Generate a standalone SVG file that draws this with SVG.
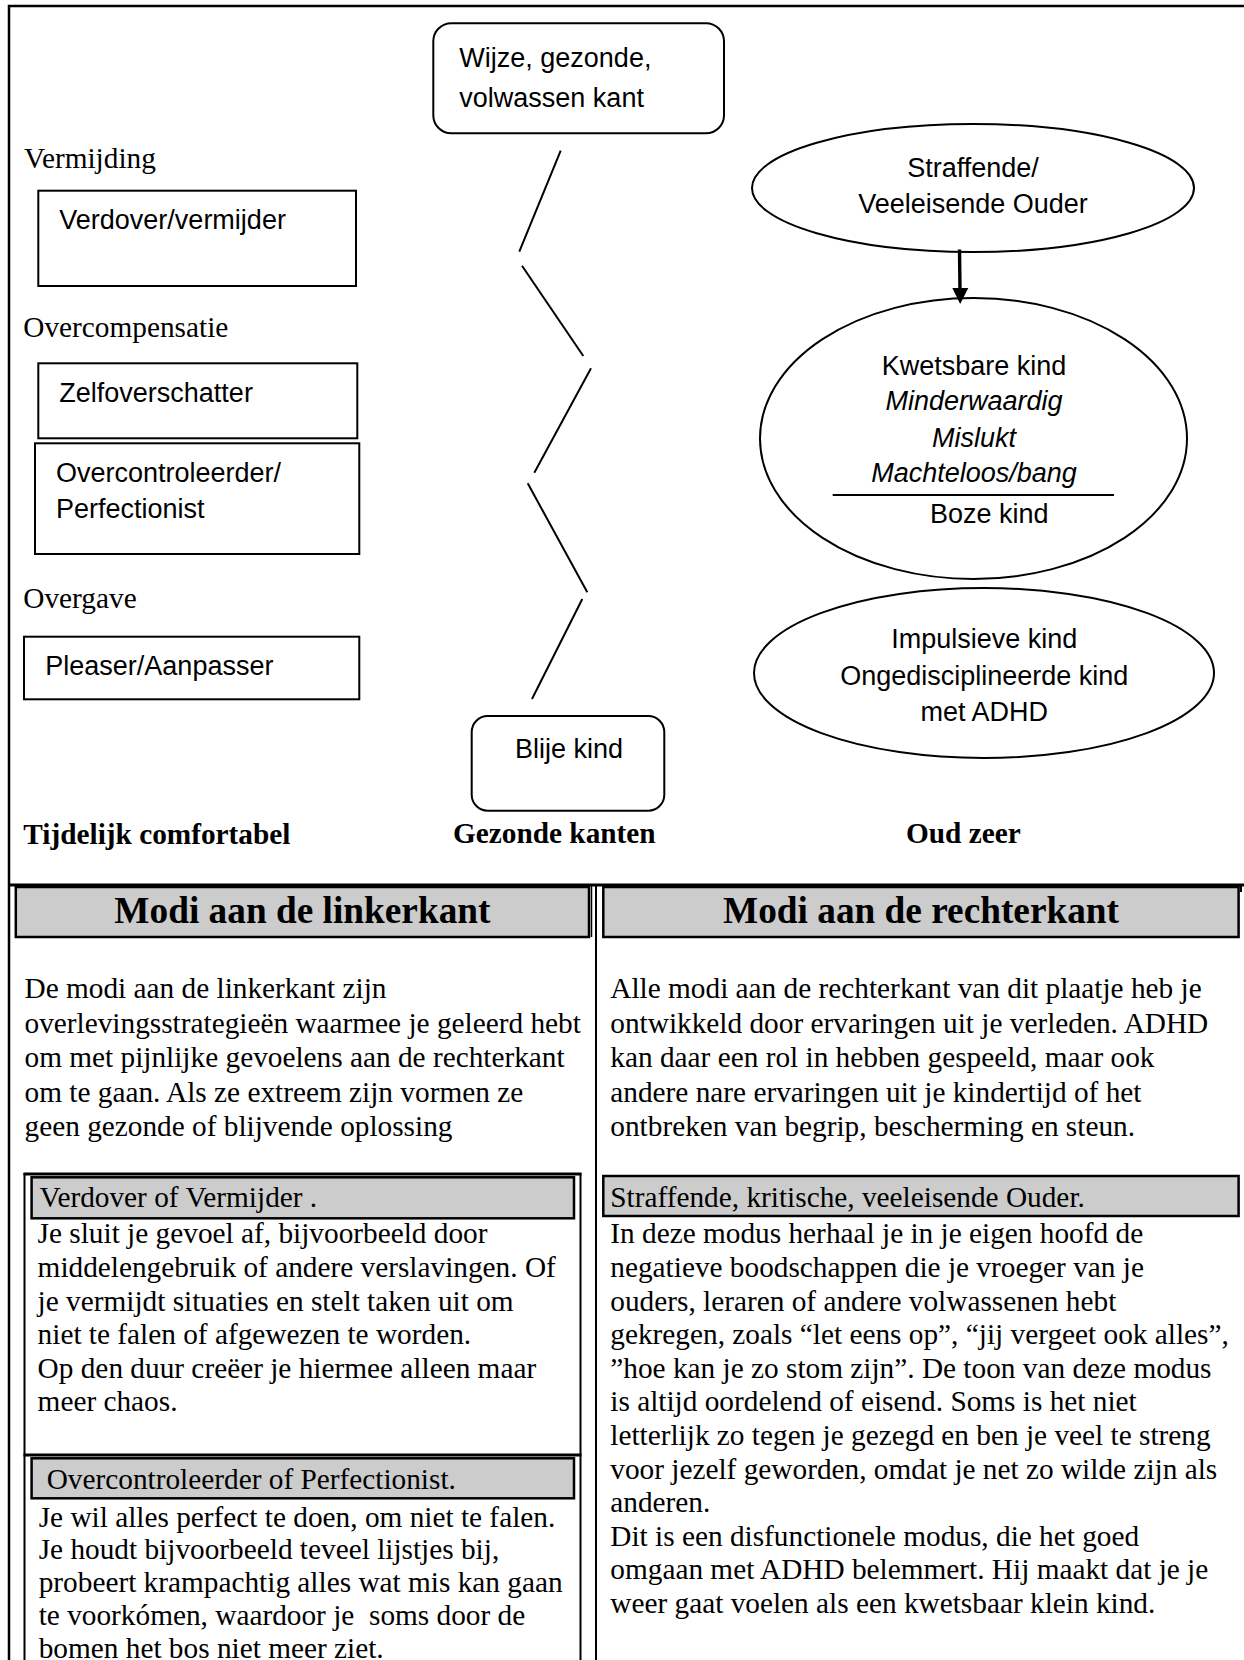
<svg xmlns="http://www.w3.org/2000/svg" width="1244" height="1660" viewBox="0 0 1244 1660">
<style>
.serif{font-family:"Liberation Serif","Times New Roman",serif;font-size:29.3px;fill:#000}
.b{font-weight:bold}
.h{font-family:"Liberation Serif","Times New Roman",serif;font-size:37.3px;font-weight:bold;text-anchor:middle;fill:#000}
.sans{font-family:"Liberation Sans",Arial,sans-serif;font-size:27px;fill:#000}
.mid{text-anchor:middle}
.it{font-style:italic}
.box{fill:#fff;stroke:#000;stroke-width:2}
.gray{fill:#cccccc;stroke:#000;stroke-width:2.5}
.ln{stroke:#000;stroke-width:2;fill:none}
.frame{stroke:#000;stroke-width:2.5;fill:none}
</style>
<defs>
<marker id="arr" viewBox="0 0 10 10" refX="9" refY="5" markerWidth="5" markerHeight="5" orient="auto" markerUnits="strokeWidth">
<path d="M0,0 L10,5 L0,10 Z" fill="#000"/>
</marker>
</defs>
<rect x="0" y="0" width="1244" height="1660" fill="#fff"/>

<g id="frame">
<path class="frame" d="M9,1660 V6 H1244"/>
<line x1="8" y1="885" x2="1244" y2="885" stroke="#000" stroke-width="3.2"/>
<line x1="1241" y1="885" x2="1241" y2="892" stroke="#000" stroke-width="2"/>
<line x1="596" y1="885" x2="596" y2="1660" stroke="#000" stroke-width="2"/>
<line x1="591.5" y1="885" x2="591.5" y2="937" stroke="#000" stroke-width="1.5"/>
</g>

<g id="labels-top">
<text class="serif" x="24" y="168.3">Vermijding</text>
<text class="serif" x="23.3" y="337.3">Overcompensatie</text>
<text class="serif" x="23.3" y="608.3">Overgave</text>
<text class="serif b" x="23.3" y="844">Tijdelijk comfortabel</text>
<text class="serif b" x="453" y="843">Gezonde kanten</text>
<text class="serif b" x="906" y="843">Oud zeer</text>
</g>

<g id="node-verdover">
<rect class="box" x="38.3" y="190.7" width="317.7" height="95.3"/>
<text class="sans" x="59.3" y="229.3">Verdover/vermijder</text>
</g>
<g id="node-zelfoverschatter">
<rect class="box" x="38.3" y="363.3" width="319" height="75"/>
<text class="sans" x="59.3" y="401.7">Zelfoverschatter</text>
</g>
<g id="node-overcontroleerder">
<rect class="box" x="35" y="443.3" width="324.3" height="110.7"/>
<text class="sans" x="56" y="481.7">Overcontroleerder/</text>
<text class="sans" x="56" y="518.3">Perfectionist</text>
</g>
<g id="node-pleaser">
<rect class="box" x="24" y="636.7" width="335.3" height="62.6"/>
<text class="sans" x="45.3" y="675">Pleaser/Aanpasser</text>
</g>

<g id="node-wijze">
<rect class="box" x="433.3" y="23.3" width="290.7" height="110" rx="18" ry="18"/>
<text class="sans" x="459.3" y="66.7">Wijze, gezonde,</text>
<text class="sans" x="459.3" y="107.3">volwassen kant</text>
</g>
<g id="node-blije">
<rect class="box" x="471.7" y="716" width="192.6" height="94.7" rx="16" ry="16"/>
<text class="sans" x="515" y="758.3">Blije kind</text>
</g>

<g id="node-straffende">
<ellipse class="box" cx="973" cy="188" rx="221" ry="64"/>
<text class="sans mid" x="973" y="176.7">Straffende/</text>
<text class="sans mid" x="973" y="213.3">Veeleisende Ouder</text>
</g>
<g id="node-kwetsbaar">
<ellipse class="box" cx="973.5" cy="438.5" rx="213.5" ry="140.5"/>
<text class="sans mid" x="974" y="375">Kwetsbare kind</text>
<text class="sans mid it" x="974" y="410">Minderwaardig</text>
<text class="sans mid it" x="974" y="446.7">Mislukt</text>
<text class="sans mid it" x="974" y="481.7">Machteloos/bang</text>
<line class="ln" x1="832.7" y1="495" x2="1114" y2="495"/>
<text class="sans mid" x="989.3" y="523.3">Boze kind</text>
</g>
<g id="node-impulsief">
<ellipse class="box" cx="984" cy="673" rx="230" ry="85"/>
<text class="sans mid" x="984.3" y="648.3">Impulsieve kind</text>
<text class="sans mid" x="984.3" y="685">Ongedisciplineerde kind</text>
<text class="sans mid" x="984.3" y="720.7">met ADHD</text>
</g>

<g id="connectors">
<line class="ln" x1="560.7" y1="150.7" x2="519.3" y2="251.7"/>
<line class="ln" x1="522" y1="265.7" x2="583.3" y2="356"/>
<line class="ln" x1="591" y1="368.3" x2="534.3" y2="472.7"/>
<line class="ln" x1="527.7" y1="483.3" x2="587.3" y2="592.3"/>
<line class="ln" x1="582.3" y1="599" x2="532" y2="699"/>
<line x1="959.5" y1="249.5" x2="960" y2="290" stroke="#000" stroke-width="3.4"/>
<path d="M952.3,288 L968.3,288 L960.2,304 Z" fill="#000"/>
</g>

<g id="table-left">
<rect class="gray" x="15.8" y="887" width="573.2" height="50"/>
<text class="h" x="302.4" y="923.3">Modi aan de linkerkant</text>
<text class="serif" x="24.5" y="998">De modi aan de linkerkant zijn</text>
<text class="serif" x="24.5" y="1032.5">overlevingsstrategieën waarmee je geleerd hebt</text>
<text class="serif" x="24.5" y="1067">om met pijnlijke gevoelens aan de rechterkant</text>
<text class="serif" x="24.5" y="1101.5">om te gaan. Als ze extreem zijn vormen ze</text>
<text class="serif" x="24.5" y="1136">geen gezonde of blijvende oplossing</text>

<path d="M24.5,1660 V1174 H580.5 V1660" stroke="#000" stroke-width="2" fill="none"/>
<line x1="23.5" y1="1174" x2="581.5" y2="1174" stroke="#000" stroke-width="3"/>
<line x1="23.5" y1="1455" x2="581.5" y2="1455" stroke="#000" stroke-width="2.8"/>
<rect class="gray" x="31.6" y="1177.3" width="542.4" height="41"/>
<text class="serif" x="39.5" y="1206.7">Verdover of Vermijder .</text>
<text class="serif" x="37.6" y="1243.3">Je sluit je gevoel af, bijvoorbeeld door</text>
<text class="serif" x="37.6" y="1276.9">middelengebruik of andere verslavingen. Of</text>
<text class="serif" x="37.6" y="1310.5">je vermijdt situaties en stelt taken uit om</text>
<text class="serif" x="37.6" y="1344.1">niet te falen of afgewezen te worden.</text>
<text class="serif" x="37.6" y="1377.7">Op den duur creëer je hiermee alleen maar</text>
<text class="serif" x="37.6" y="1411.3">meer chaos.</text>

<rect class="gray" x="31.6" y="1458.3" width="542.4" height="40"/>
<text class="serif" x="46.7" y="1489.3">Overcontroleerder of Perfectionist.</text>
<text class="serif" x="38.7" y="1526.5">Je wil alles perfect te doen, om niet te falen.</text>
<text class="serif" x="38.7" y="1559.3">Je houdt bijvoorbeeld teveel lijstjes bij,</text>
<text class="serif" x="38.7" y="1592.1">probeert krampachtig alles wat mis kan gaan</text>
<text class="serif" x="38.7" y="1624.9" style="white-space:pre">te voorkómen, waardoor je  soms door de</text>
<text class="serif" x="38.7" y="1657.7">bomen het bos niet meer ziet.</text>
</g>

<g id="table-right">
<rect class="gray" x="603.3" y="887" width="635.3" height="50"/>
<text class="h" x="921" y="923.3">Modi aan de rechterkant</text>
<text class="serif" x="610.3" y="998">Alle modi aan de rechterkant van dit plaatje heb je</text>
<text class="serif" x="610.3" y="1032.5">ontwikkeld door ervaringen uit je verleden. ADHD</text>
<text class="serif" x="610.3" y="1067">kan daar een rol in hebben gespeeld, maar ook</text>
<text class="serif" x="610.3" y="1101.5">andere nare ervaringen uit je kindertijd of het</text>
<text class="serif" x="610.3" y="1136">ontbreken van begrip, bescherming en steun.</text>

<rect class="gray" x="603.3" y="1176" width="635.3" height="40"/>
<text class="serif" x="610.3" y="1206.7">Straffende, kritische, veeleisende Ouder.</text>
<text class="serif" x="610.3" y="1243.3">In deze modus herhaal je in je eigen hoofd de</text>
<text class="serif" x="610.3" y="1276.9">negatieve boodschappen die je vroeger van je</text>
<text class="serif" x="610.3" y="1310.5">ouders, leraren of andere volwassenen hebt</text>
<text class="serif" x="610.3" y="1344.1">gekregen, zoals “let eens op”, “jij vergeet ook alles”,</text>
<text class="serif" x="610.3" y="1377.7">”hoe kan je zo stom zijn”. De toon van deze modus</text>
<text class="serif" x="610.3" y="1411.3">is altijd oordelend of eisend. Soms is het niet</text>
<text class="serif" x="610.3" y="1444.9">letterlijk zo tegen je gezegd en ben je veel te streng</text>
<text class="serif" x="610.3" y="1478.5">voor jezelf geworden, omdat je net zo wilde zijn als</text>
<text class="serif" x="610.3" y="1512.1">anderen.</text>
<text class="serif" x="610.3" y="1545.7">Dit is een disfunctionele modus, die het goed</text>
<text class="serif" x="610.3" y="1579.3">omgaan met ADHD belemmert. Hij maakt dat je je</text>
<text class="serif" x="610.3" y="1612.9">weer gaat voelen als een kwetsbaar klein kind.</text>
</g>
</svg>
